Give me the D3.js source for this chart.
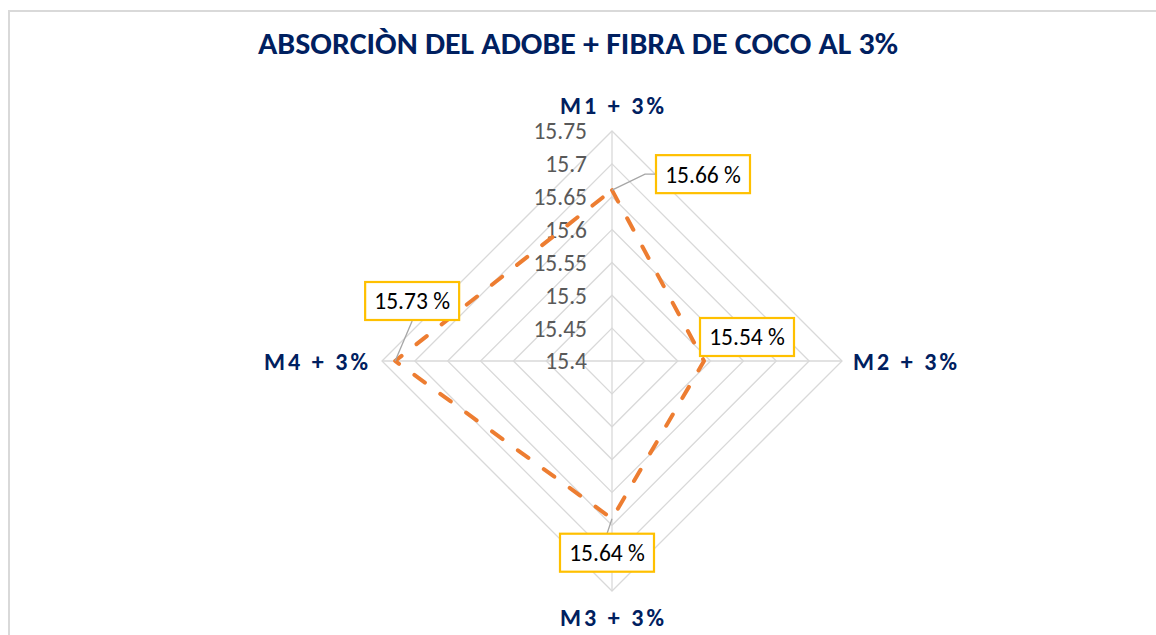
<!DOCTYPE html>
<html>
<head>
<meta charset="utf-8">
<script src="https://cdn.jsdelivr.net/npm/d3@7"></script>
<style>
  html, body { margin: 0; padding: 0; background: #fff; }
  svg { display: block; }
</style>
</head>
<body>
<svg id="chart" width="1156" height="635"></svg>
<script>
const title = "ABSORCIÒN DEL ADOBE + FIBRA DE COCO AL 3%";
const categories = ["M1 + 3%", "M2 + 3%", "M3 + 3%", "M4 + 3%"];
const values = [15.66, 15.54, 15.64, 15.73];
const dataLabels = ["15.66 %", "15.54 %", "15.64 %", "15.73 %"];
const tickValues = [15.4, 15.45, 15.5, 15.55, 15.6, 15.65, 15.7, 15.75];
const tickLabels = ["15.4", "15.45", "15.5", "15.55", "15.6", "15.65", "15.7", "15.75"];

const svg = d3.select("#chart");
const cx = 612, cy = 361, R = 230;
const font = "Carlito, Calibri, Lato, sans-serif";

// chart border
svg.append("path")
  .attr("d", "M9,700 L9,11 L1200,11")
  .attr("fill", "none").attr("stroke", "#d9d9d9").attr("stroke-width", 2);

const r = d3.scaleLinear().domain([15.4, 15.75]).range([0, R]);
const angle = d3.scalePoint().domain(categories).range([0, 2 * Math.PI * 3 / 4]);
const pt = (cat, v) => {
  const a = angle(cat);
  return [cx + r(v) * Math.sin(a), cy - r(v) * Math.cos(a)];
};

// grid rings
const g = svg.append("g");
tickValues.slice(1).forEach(t => {
  g.append("path")
    .attr("d", d3.line()(categories.map(c => pt(c, t))) + "Z")
    .attr("fill", "none").attr("stroke", "#d9d9d9").attr("stroke-width", 1.3);
});
// spokes
categories.forEach(c => {
  const [x, y] = pt(c, 15.75);
  g.append("line").attr("x1", cx).attr("y1", cy).attr("x2", x).attr("y2", y)
    .attr("stroke", "#d9d9d9").attr("stroke-width", 1.3);
});

// tick labels
tickValues.forEach((t, i) => {
  svg.append("text")
    .attr("x", cx - 25).attr("y", cy - r(t))
    .attr("dy", "0.36em")
    .attr("text-anchor", "end")
    .attr("font-family", font).attr("font-size", 23.5)
    .attr("fill", "#595959")
    .text(tickLabels[i]);
});

// series line
const pts = categories.map((c, i) => pt(c, values[i]));
svg.append("path")
  .attr("d", d3.line()(pts) + "Z")
  .attr("fill", "none").attr("stroke", "#ED7D31").attr("stroke-width", 4)
  .attr("stroke-dasharray", "13,19").attr("stroke-linecap", "round")
  .attr("stroke-linejoin", "round");

// axis labels
const axisLabelPos = [
  {x: cx, y: cy - R - 26, anchor: "middle"},
  {x: cx + R + 11, y: cy, anchor: "start"},
  {x: cx, y: cy + R + 26, anchor: "middle"},
  {x: cx - R - 14, y: cy, anchor: "end"}
];
categories.forEach((c, i) => {
  const p = axisLabelPos[i];
  svg.append("text")
    .attr("x", p.x).attr("y", p.y).attr("dy", "0.36em")
    .attr("text-anchor", p.anchor)
    .attr("font-family", font).attr("font-size", 24).attr("font-weight", 900)
    .attr("fill", "#002060")
    .attr("textLength", 104).attr("lengthAdjust", "spacing")
    .text(c);
});

// data labels (box offsets relative to the point)
const boxOffsets = [
  {dx: 44, dy: -35, leader: [[33, -16], [44, -16]]},
  {dx: -4, dy: -43, leader: null},
  {dx: -52, dy: 15, leader: [[-5, 15]]},
  {dx: -30, dy: -79, leader: [[17, -40]]}
];
const bw = 94, bh = 38;
categories.forEach((c, i) => {
  const [px, py] = pts[i];
  const o = boxOffsets[i];
  if (o.leader) {
    const lp = [[px, py]].concat(o.leader.map(d => [px + d[0], py + d[1]]));
    svg.append("path").attr("d", d3.line()(lp))
      .attr("fill", "none").attr("stroke", "#a6a6a6").attr("stroke-width", 1.3);
  }
  svg.append("rect")
    .attr("x", px + o.dx).attr("y", py + o.dy).attr("width", bw).attr("height", bh)
    .attr("fill", "#fff").attr("stroke", "#FFC000").attr("stroke-width", 2.2);
  svg.append("text")
    .attr("x", px + o.dx + bw / 2).attr("y", py + o.dy + bh / 2).attr("dy", "0.36em")
    .attr("text-anchor", "middle")
    .attr("font-family", font).attr("font-size", 23.5)
    .attr("fill", "#000")
    .text(dataLabels[i]);
});

// title
svg.append("text")
  .attr("x", 578).attr("y", 54)
  .attr("text-anchor", "middle")
  .attr("font-family", font).attr("font-size", 30).attr("font-weight", 900)
  .attr("fill", "#002060")
  .attr("textLength", 640).attr("lengthAdjust", "spacingAndGlyphs")
  .text(title);
</script>
</body>
</html>
